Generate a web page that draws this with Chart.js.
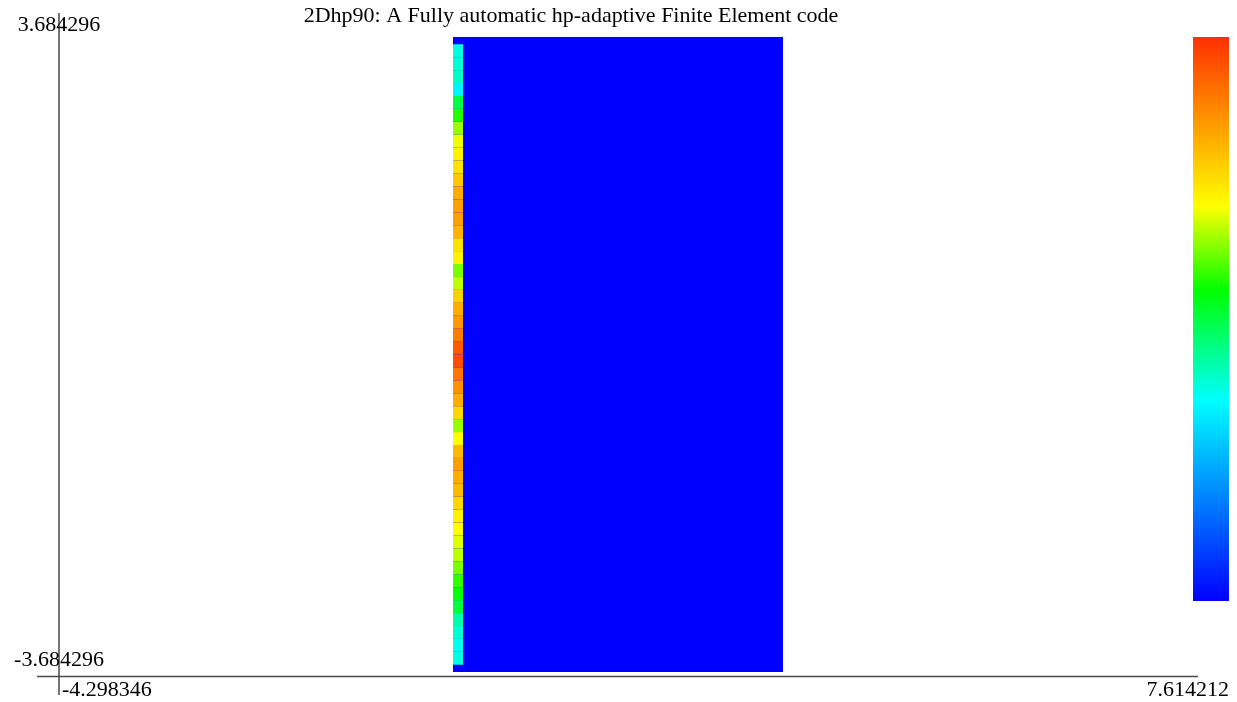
<!DOCTYPE html>
<html>
<head>
<meta charset="utf-8">
<title>2Dhp90</title>
<script src="https://cdn.jsdelivr.net/npm/chart.js@4.4.0/dist/chart.umd.min.js"></script>
<style>
    html, body { margin: 0; padding: 0; background: #ffffff; }
    #wrap { width: 1237px; height: 702px; }
</style>
</head>
<body>
<div id="wrap"><canvas id="chart" width="1237" height="702"></canvas></div>
<script>
// Limites do domínio (eixos)
const xLimits = [-4.298346, 7.614212];
const yLimits = [-3.684296, 3.684296];
const xTickLabels = ['-4.298346', '7.614212'];
const yTickLabels = ['3.684296', '-3.684296'];
const titleText = '2Dhp90: A Fully automatic hp-adaptive Finite Element code';

// Bloco principal (valor ~0, azul)
const blockX = [-0.178, 3.274];
const blockY = [-3.684296, 3.684296];
const blockLevel = 0.0;

// Faixa estreita junto à borda esquerda
const stripX = [-0.178, -0.073];
const stripEdges = [3.60, 3.45, 3.30, 3.15, 3.00, 2.85, 2.70, 2.55, 2.40, 2.25, 2.10, 1.95,
    1.80, 1.65, 1.50, 1.35, 1.20, 1.05, 0.90, 0.75, 0.60, 0.45, 0.30, 0.15, 0.00,
    -0.15, -0.30, -0.45, -0.60, -0.75, -0.90, -1.05, -1.20, -1.35, -1.50, -1.65, -1.80,
    -1.95, -2.10, -2.25, -2.40, -2.55, -2.70, -2.85, -3.00, -3.15, -3.30, -3.45, -3.60];
const stripLevels = [0.38, 0.39, 0.40, 0.34, 0.50, 0.57, 0.64, 0.69, 0.72, 0.74, 0.78, 0.82,
    0.84, 0.84, 0.81, 0.74, 0.72, 0.62, 0.66, 0.77, 0.82, 0.85, 0.89, 0.94,
    0.96, 0.90, 0.86, 0.82, 0.76, 0.64, 0.70, 0.80, 0.84, 0.82, 0.80, 0.76,
    0.72, 0.70, 0.68, 0.66, 0.62, 0.58, 0.54, 0.50, 0.42, 0.39, 0.37, 0.38];

// Escala de cores (posição 0..1 -> cor)
const colorStops = [0.0, 0.356, 0.55, 0.70, 1.0];
const colorValues = [[0, 0, 255], [0, 255, 255], [0, 255, 0], [255, 255, 0], [255, 48, 0]];

function levelColor(v) {
    for (let i = 1; i < colorStops.length; i++) {
        if (v <= colorStops[i]) {
            const t = (v - colorStops[i - 1]) / (colorStops[i] - colorStops[i - 1]);
            const a = colorValues[i - 1], b = colorValues[i];
            const c = a.map((ch, j) => Math.round(ch + (b[j] - ch) * t));
            return 'rgb(' + c.join(',') + ')';
        }
    }
    return 'rgb(' + colorValues[colorValues.length - 1].join(',') + ')';
}

// Cada célula vira uma linha no topo preenchida até o valor de baixo
function cellDataset(x0, x1, yTop, yBottom, level, order) {
    return {
        data: [{ x: x0, y: yTop }, { x: x1, y: yTop }],
        fill: { value: yBottom },
        backgroundColor: levelColor(level),
        borderColor: 'rgba(0,0,0,0)',
        borderWidth: 0,
        pointRadius: 0,
        tension: 0,
        order: order
    };
}

const datasets = [];
for (let i = 0; i < stripLevels.length; i++) {
    datasets.push(cellDataset(stripX[0], stripX[1], stripEdges[i], stripEdges[i + 1], stripLevels[i], 0));
}
datasets.push(cellDataset(blockX[0], blockX[1], blockY[1], blockY[0], blockLevel, 1));

// Eixos, rótulos, título e barra de cores
const decorations = {
    id: 'decorations',
    afterDraw(chart) {
        const ctx = chart.ctx;
        const xs = chart.scales.x, ys = chart.scales.y;
        const x0 = xs.getPixelForValue(xLimits[0]);
        const yTop = ys.getPixelForValue(yLimits[1]);
        const yBot = ys.getPixelForValue(yLimits[0]);
        ctx.save();
        ctx.strokeStyle = '#4a4a4a';
        ctx.lineWidth = 1.5;
        ctx.beginPath();
        ctx.moveTo(x0, 13);
        ctx.lineTo(x0, 695);
        ctx.moveTo(37, yBot + 4.5);
        ctx.lineTo(1198, yBot + 4.5);
        ctx.stroke();

        ctx.fillStyle = '#000';
        ctx.textBaseline = 'middle';
        ctx.font = '22px "Liberation Serif"';
        ctx.textAlign = 'center';
        ctx.fillText(yTickLabels[0], x0, yTop - 12);
        ctx.fillText(yTickLabels[1], x0, yBot - 12);
        ctx.textAlign = 'left';
        ctx.fillText(xTickLabels[0], x0 + 3, yBot + 18);
        ctx.textAlign = 'right';
        ctx.fillText(xTickLabels[1], 1229, yBot + 18);

        ctx.textAlign = 'center';
        ctx.fillText(titleText, 571, 16);

        // barra de cores
        const g = ctx.createLinearGradient(0, 601, 0, 37);
        colorStops.forEach((s, i) => g.addColorStop(s, 'rgb(' + colorValues[i].join(',') + ')'));
        ctx.fillStyle = g;
        ctx.fillRect(1193, 37, 36, 564);
        ctx.restore();
    }
};

const chart = new Chart(document.getElementById('chart'), {
    type: 'line',
    data: { datasets: datasets },
    options: {
        responsive: false,
        animation: false,
        events: [],
        layout: { padding: { left: 59, right: 39, top: 37, bottom: 30 } },
        scales: {
            x: { type: 'linear', min: xLimits[0], max: xLimits[1], display: false },
            y: { type: 'linear', min: yLimits[0], max: yLimits[1], display: false }
        },
        plugins: {
            legend: { display: false },
            tooltip: { enabled: false }
        }
    },
    plugins: [decorations]
});
</script>
</body>
</html>
